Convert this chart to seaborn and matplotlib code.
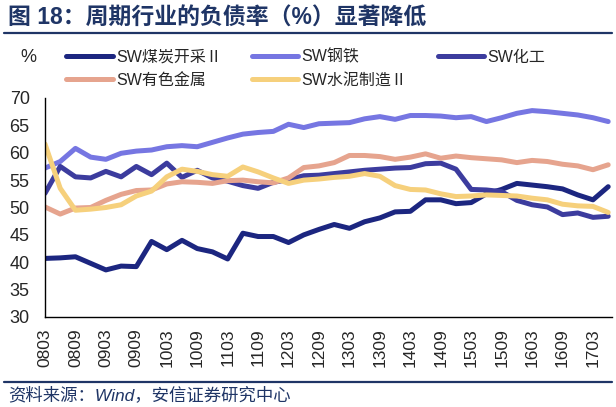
import numpy as np
import pandas as pd
import matplotlib
matplotlib.use('Agg')
import matplotlib.pyplot as plt
from matplotlib.lines import Line2D
import seaborn as sns

# quarterly debt ratio (%), 2008Q1 .. 2017Q2
coal = [40.7, 40.8, 41.0, 39.8, 38.6, 39.3, 39.2, 43.8, 42.3, 44.0,
        42.5, 41.9, 40.6, 45.3, 44.7, 44.7, 43.6, 45.0, 46.0, 46.9,
        46.2, 47.4, 48.1, 49.2, 49.3, 51.4, 51.4, 50.7, 50.9, 52.5,
        53.3, 54.4, 54.1, 53.8, 53.4, 52.3, 51.4, 53.8]
steel = [57.2, 58.4, 60.8, 59.2, 58.8, 59.9, 60.3, 60.5, 61.1, 61.3,
         61.1, 61.9, 62.7, 63.4, 63.7, 63.9, 65.2, 64.6, 65.3, 65.4,
         65.5, 66.2, 66.6, 66.1, 66.8, 66.8, 66.7, 66.4, 66.6, 65.7,
         66.4, 67.2, 67.7, 67.5, 67.2, 66.9, 66.4, 65.7]
chem = [52.6, 57.5, 55.6, 55.4, 56.6, 55.6, 57.5, 56.0, 58.1, 55.5,
        56.8, 55.4, 54.8, 54.0, 53.5, 54.6, 55.1, 55.8, 55.9, 56.2,
        56.5, 56.8, 57.0, 57.2, 57.3, 58.0, 58.1, 57.0, 53.3, 53.2,
        52.9, 51.3, 50.5, 50.1, 48.7, 49.0, 48.2, 48.4]
metal = [50.1, 48.8, 49.9, 50.0, 51.3, 52.4, 53.1, 53.2, 54.3, 54.7,
         54.6, 54.4, 54.9, 55.0, 54.7, 54.5, 55.4, 57.3, 57.6, 58.2,
         59.5, 59.5, 59.3, 58.8, 59.2, 59.8, 59.0, 59.4, 59.1, 58.9,
         58.7, 58.2, 58.6, 58.4, 57.9, 57.6, 56.9, 57.8]
cement = [61.6, 53.5, 49.5, 49.7, 50.0, 50.5, 52.1, 53.0, 55.6, 57.0,
          56.6, 56.0, 55.7, 57.4, 56.5, 55.4, 54.4, 55.0, 55.2, 55.5,
          55.7, 56.2, 55.7, 54.0, 53.3, 53.2, 52.5, 52.0, 52.1, 52.3,
          52.2, 52.1, 51.7, 51.4, 50.6, 50.3, 50.2, 49.1]

names = ['SW煤炭开采Ⅱ', 'SW钢铁', 'SW化工', 'SW有色金属', 'SW水泥制造Ⅱ']
colors = ['#1c2680', '#7676e2', '#3c3c9e', '#e6a48e', '#f6d07c']
tick_labels = ['0803', '0809', '0903', '0909', '1003', '1009', '1103', '1109',
               '1203', '1209', '1303', '1309', '1403', '1409', '1503', '1509',
               '1603', '1609', '1703']

series = [coal, steel, chem, metal, cement]
frames = []
for name, vals in zip(names, series):
    frames.append(pd.DataFrame({'t': np.arange(len(vals)), 'value': vals, 'series': name}))
df = pd.concat(frames, ignore_index=True)

sns.set_style('white')
plt.rcParams['font.family'] = ['Liberation Sans', 'Noto Sans CJK SC', 'DejaVu Sans']

fig = plt.figure(figsize=(6.16, 4.07), dpi=100)
ax = fig.add_axes([45 / 616, 1 - 317 / 407, 567 / 616, 219 / 407])

sns.lineplot(data=df, x='t', y='value', hue='series', hue_order=names,
             palette=colors, linewidth=3.6, legend=False, ax=ax)

ax.set_xlim(0, 37.25)
ax.set_ylim(30, 70)
ax.set_yticks(range(30, 71, 5))
ax.set_xticks(range(0, 37, 2))
ax.set_xticklabels(tick_labels, rotation=90)
ax.set_xlabel('')
ax.set_ylabel('')
for s in ['top', 'right']:
    ax.spines[s].set_visible(False)
for s in ['left', 'bottom']:
    ax.spines[s].set_color('black')
    ax.spines[s].set_linewidth(1.0)
ax.tick_params(axis='y', direction='in', length=5, width=1, labelsize=13, pad=11)
ax.tick_params(axis='x', direction='in', length=5, width=1, labelsize=12.5, pad=8)

# legend: column-major fill, so reorder to get the reference row layout
lines = ax.get_lines()
order = [0, 3, 1, 4, 2]
fig.legend([lines[i] for i in order], [names[i] for i in order],
           ncol=3, frameon=False, fontsize=11.5, loc='upper left',
           bbox_to_anchor=(60 / 616, 1 - 43 / 407), handlelength=2.9,
           handletextpad=0.2, columnspacing=1.9, labelspacing=0.5,
           borderaxespad=0)
fig.text(20 / 616, 1 - 57 / 407, '%', fontsize=13, ha='left', va='center')

# title and rules
navy = '#1f3566'
fig.text(8 / 616, 1 - 18 / 407, '图 18：周期行业的负债率（%）显著降低',
         fontsize=16.5, fontweight='bold', color=navy, ha='left', va='center')
fig.add_artist(Line2D([4 / 616, 612 / 616], [1 - 33 / 407] * 2, color=navy, lw=1.6))
fig.add_artist(Line2D([4 / 616, 612 / 616], [1 - 382 / 407] * 2, color=navy, lw=1.6))
fig.text(8 / 616, 1 - 395 / 407, '资料来源：Wind，安信证券研究中心',
         fontsize=12.5, style='italic', color=navy, ha='left', va='center')

fig.savefig('out.png', dpi=100)
